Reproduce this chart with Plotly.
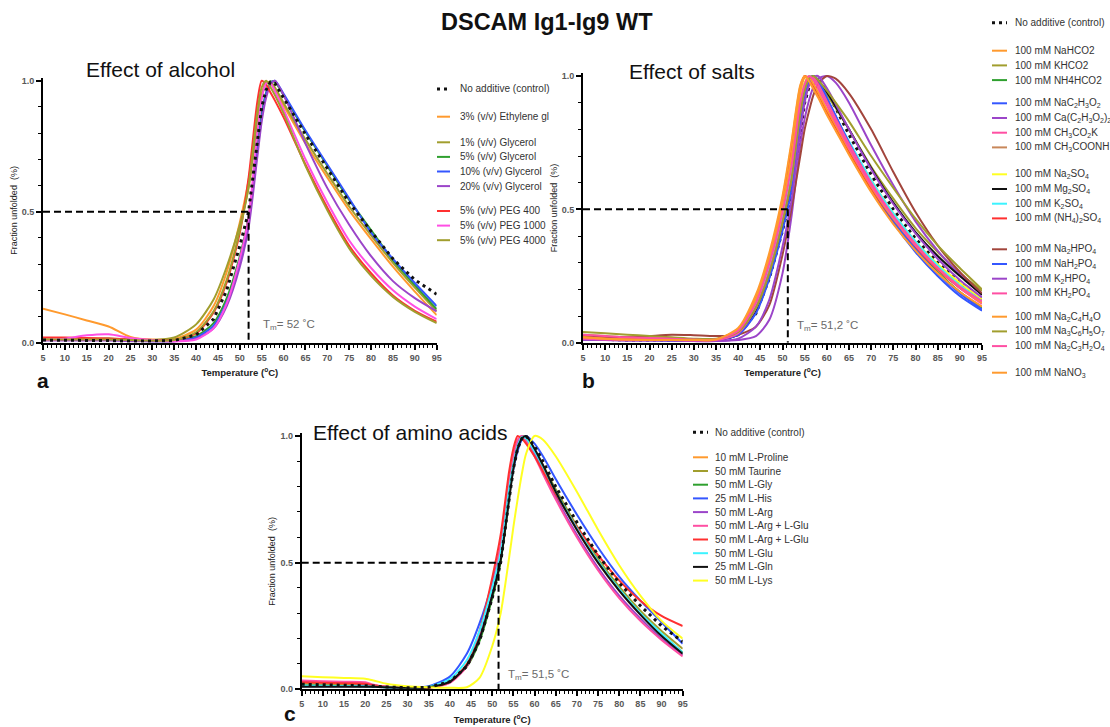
import plotly.graph_objects as go

W, H = 1110, 727
FONT = "Liberation Sans, Arial, Helvetica, sans-serif"

# ------------------------------------------------------------------ data
# Panel a : effect of alcohol
temp_a = [5, 10, 15, 20, 25, 30, 35, 40, 44, 47, 50, 52, 54, 55, 56, 57, 58, 60, 65, 70, 75, 80, 85, 90, 95]
a_control = [0.010, 0.010, 0.010, 0.008, 0.006, 0.006, 0.008, 0.030, 0.090, 0.200, 0.370, 0.500, 0.780, 0.900, 0.965, 0.995, 0.990, 0.935, 0.795, 0.665, 0.535, 0.425, 0.320, 0.240, 0.185]
a_ethylene = [0.130, 0.108, 0.085, 0.062, 0.022, 0.012, 0.015, 0.050, 0.140, 0.270, 0.460, 0.620, 0.860, 0.950, 0.995, 0.990, 0.965, 0.905, 0.760, 0.630, 0.505, 0.395, 0.290, 0.195, 0.105]
a_gly1 = [0.012, 0.012, 0.014, 0.016, 0.012, 0.010, 0.020, 0.070, 0.165, 0.290, 0.450, 0.590, 0.840, 0.940, 0.990, 0.995, 0.975, 0.915, 0.775, 0.645, 0.520, 0.410, 0.305, 0.210, 0.120]
a_gly5 = [0.010, 0.010, 0.012, 0.015, 0.012, 0.008, 0.008, 0.025, 0.075, 0.170, 0.330, 0.480, 0.750, 0.875, 0.955, 0.995, 0.995, 0.945, 0.805, 0.675, 0.545, 0.430, 0.315, 0.220, 0.128]
a_gly10 = [0.010, 0.010, 0.010, 0.010, 0.008, 0.006, 0.006, 0.020, 0.065, 0.155, 0.310, 0.460, 0.730, 0.860, 0.950, 0.990, 1.000, 0.950, 0.810, 0.680, 0.550, 0.420, 0.320, 0.228, 0.140]
a_gly20 = [0.008, 0.008, 0.008, 0.008, 0.006, 0.005, 0.005, 0.015, 0.055, 0.140, 0.290, 0.440, 0.710, 0.845, 0.935, 0.985, 1.000, 0.945, 0.760, 0.590, 0.450, 0.330, 0.235, 0.170, 0.120]
a_peg400 = [0.020, 0.020, 0.018, 0.016, 0.012, 0.010, 0.010, 0.035, 0.115, 0.230, 0.420, 0.630, 0.920, 1.000, 0.985, 0.955, 0.925, 0.860, 0.680, 0.515, 0.370, 0.265, 0.180, 0.122, 0.080]
a_peg1000 = [0.010, 0.015, 0.028, 0.032, 0.018, 0.010, 0.005, 0.012, 0.055, 0.150, 0.320, 0.480, 0.800, 0.930, 0.990, 0.990, 0.960, 0.890, 0.700, 0.535, 0.390, 0.285, 0.200, 0.138, 0.090]
a_peg4000 = [0.012, 0.012, 0.012, 0.012, 0.010, 0.008, 0.010, 0.040, 0.120, 0.240, 0.430, 0.600, 0.880, 0.975, 1.000, 0.975, 0.945, 0.875, 0.675, 0.505, 0.360, 0.255, 0.175, 0.118, 0.075]

# Panel b : effect of salts
temp_b = [5, 10, 15, 20, 25, 30, 35, 40, 44, 47, 50, 52, 54, 55, 56, 57, 58, 60, 62, 65, 70, 75, 80, 85, 90, 95]
b_control = [0.015, 0.012, 0.010, 0.010, 0.010, 0.008, 0.008, 0.030, 0.110, 0.240, 0.420, 0.560, 0.800, 0.900, 0.960, 0.995, 0.990, 0.940, 0.880, 0.780, 0.630, 0.500, 0.390, 0.300, 0.225, 0.165]
b_nahco2 = [0.020, 0.015, 0.012, 0.010, 0.010, 0.010, 0.012, 0.050, 0.170, 0.320, 0.540, 0.740, 0.960, 1.000, 0.985, 0.955, 0.925, 0.860, 0.800, 0.710, 0.570, 0.450, 0.350, 0.260, 0.190, 0.135]
b_khco2 = [0.030, 0.025, 0.020, 0.018, 0.015, 0.012, 0.012, 0.040, 0.140, 0.280, 0.470, 0.630, 0.870, 0.950, 0.995, 0.995, 0.975, 0.930, 0.880, 0.800, 0.660, 0.540, 0.430, 0.340, 0.260, 0.195]
b_nh4hco2 = [0.015, 0.012, 0.010, 0.010, 0.010, 0.008, 0.010, 0.035, 0.130, 0.260, 0.450, 0.600, 0.850, 0.940, 0.990, 0.995, 0.970, 0.905, 0.840, 0.740, 0.590, 0.460, 0.355, 0.265, 0.190, 0.130]
b_nac2h3o2 = [0.012, 0.010, 0.010, 0.010, 0.008, 0.008, 0.010, 0.030, 0.120, 0.250, 0.430, 0.580, 0.830, 0.930, 0.985, 1.000, 0.980, 0.915, 0.850, 0.745, 0.585, 0.450, 0.340, 0.250, 0.175, 0.120]
b_ca_acetate = [0.010, 0.010, 0.008, 0.008, 0.008, 0.006, 0.006, 0.010, 0.025, 0.085, 0.260, 0.470, 0.740, 0.840, 0.910, 0.960, 0.990, 1.000, 0.975, 0.900, 0.740, 0.590, 0.455, 0.345, 0.255, 0.180]
b_ch3co2k = [0.020, 0.018, 0.015, 0.012, 0.010, 0.010, 0.010, 0.040, 0.150, 0.290, 0.480, 0.650, 0.900, 0.970, 1.000, 0.990, 0.960, 0.895, 0.830, 0.735, 0.590, 0.465, 0.360, 0.275, 0.205, 0.150]
b_ch3coonh4 = [0.015, 0.012, 0.010, 0.010, 0.010, 0.010, 0.012, 0.045, 0.160, 0.300, 0.490, 0.660, 0.900, 0.970, 1.000, 0.985, 0.960, 0.895, 0.830, 0.740, 0.600, 0.475, 0.370, 0.285, 0.215, 0.160]
b_na2so4 = [0.015, 0.012, 0.010, 0.010, 0.010, 0.010, 0.012, 0.045, 0.160, 0.310, 0.500, 0.670, 0.910, 0.975, 1.000, 0.985, 0.960, 0.900, 0.840, 0.750, 0.610, 0.485, 0.380, 0.295, 0.225, 0.165]
b_mg2so4 = [0.012, 0.010, 0.010, 0.010, 0.010, 0.008, 0.010, 0.030, 0.115, 0.245, 0.430, 0.580, 0.830, 0.930, 0.985, 1.000, 0.985, 0.940, 0.885, 0.800, 0.655, 0.525, 0.415, 0.325, 0.250, 0.180]
b_k2so4 = [0.015, 0.012, 0.010, 0.010, 0.010, 0.008, 0.010, 0.040, 0.150, 0.290, 0.480, 0.640, 0.890, 0.965, 1.000, 0.990, 0.965, 0.905, 0.845, 0.755, 0.610, 0.485, 0.380, 0.290, 0.215, 0.155]
b_nh4_2so4 = [0.020, 0.015, 0.012, 0.010, 0.010, 0.010, 0.012, 0.050, 0.170, 0.320, 0.530, 0.720, 0.950, 1.000, 0.990, 0.965, 0.935, 0.870, 0.810, 0.720, 0.580, 0.460, 0.360, 0.275, 0.205, 0.150]
b_na2hpo4 = [0.025, 0.022, 0.020, 0.025, 0.030, 0.028, 0.025, 0.030, 0.060, 0.140, 0.330, 0.500, 0.700, 0.800, 0.870, 0.930, 0.970, 1.000, 0.990, 0.935, 0.800, 0.640, 0.490, 0.365, 0.265, 0.185]
b_nah2po4 = [0.012, 0.010, 0.010, 0.010, 0.008, 0.008, 0.010, 0.030, 0.110, 0.240, 0.420, 0.570, 0.820, 0.920, 0.980, 1.000, 0.985, 0.920, 0.850, 0.750, 0.595, 0.460, 0.350, 0.260, 0.185, 0.125]
b_k2hpo4 = [0.010, 0.010, 0.008, 0.008, 0.008, 0.006, 0.006, 0.015, 0.060, 0.160, 0.360, 0.530, 0.790, 0.900, 0.965, 0.995, 1.000, 0.955, 0.895, 0.800, 0.650, 0.520, 0.410, 0.315, 0.235, 0.170]
b_kh2po4 = [0.015, 0.012, 0.010, 0.010, 0.010, 0.008, 0.010, 0.035, 0.130, 0.265, 0.455, 0.610, 0.860, 0.950, 0.995, 0.995, 0.970, 0.905, 0.840, 0.745, 0.600, 0.475, 0.370, 0.280, 0.205, 0.145]
b_na2c4h4o = [0.020, 0.015, 0.012, 0.010, 0.010, 0.010, 0.012, 0.050, 0.165, 0.315, 0.520, 0.700, 0.940, 0.995, 0.995, 0.970, 0.940, 0.875, 0.815, 0.725, 0.585, 0.465, 0.365, 0.280, 0.210, 0.150]
b_na3c6h5o7 = [0.040, 0.035, 0.030, 0.025, 0.020, 0.015, 0.015, 0.040, 0.130, 0.260, 0.450, 0.610, 0.860, 0.945, 0.990, 1.000, 0.985, 0.945, 0.900, 0.830, 0.700, 0.580, 0.465, 0.365, 0.280, 0.200]
b_na2c3h2o4 = [0.030, 0.025, 0.020, 0.018, 0.015, 0.012, 0.012, 0.045, 0.150, 0.295, 0.490, 0.660, 0.900, 0.970, 1.000, 0.985, 0.955, 0.890, 0.825, 0.730, 0.590, 0.470, 0.365, 0.280, 0.210, 0.155]
b_nano3 = [0.020, 0.015, 0.012, 0.010, 0.010, 0.010, 0.012, 0.055, 0.180, 0.335, 0.550, 0.750, 0.965, 1.000, 0.980, 0.950, 0.920, 0.855, 0.795, 0.705, 0.565, 0.445, 0.345, 0.260, 0.190, 0.135]

# Panel c : effect of amino acids
temp_c = [5, 10, 15, 20, 22, 25, 30, 35, 40, 44, 47, 50, 52, 54, 55, 56, 57, 58, 60, 62, 65, 70, 75, 80, 85, 90, 95]
c_control = [0.020, 0.018, 0.016, 0.015, 0.013, 0.009, 0.006, 0.008, 0.030, 0.090, 0.190, 0.360, 0.500, 0.750, 0.870, 0.950, 0.990, 1.000, 0.960, 0.900, 0.800, 0.660, 0.530, 0.420, 0.330, 0.250, 0.188]
c_proline = [0.025, 0.022, 0.020, 0.018, 0.015, 0.010, 0.006, 0.008, 0.030, 0.095, 0.200, 0.370, 0.520, 0.770, 0.880, 0.960, 1.000, 0.990, 0.940, 0.880, 0.780, 0.630, 0.500, 0.390, 0.295, 0.215, 0.145]
c_taurine = [0.020, 0.018, 0.016, 0.015, 0.013, 0.009, 0.006, 0.008, 0.030, 0.090, 0.195, 0.365, 0.510, 0.765, 0.880, 0.960, 0.995, 0.995, 0.945, 0.885, 0.790, 0.645, 0.515, 0.405, 0.310, 0.230, 0.160]
c_gly = [0.015, 0.014, 0.013, 0.012, 0.010, 0.008, 0.006, 0.008, 0.030, 0.090, 0.190, 0.360, 0.505, 0.760, 0.875, 0.955, 0.995, 0.995, 0.940, 0.880, 0.780, 0.635, 0.505, 0.395, 0.300, 0.215, 0.145]
c_his = [0.012, 0.012, 0.012, 0.012, 0.010, 0.008, 0.006, 0.012, 0.050, 0.140, 0.260, 0.420, 0.560, 0.770, 0.870, 0.940, 0.985, 1.000, 0.970, 0.920, 0.830, 0.690, 0.560, 0.445, 0.350, 0.265, 0.180]
c_arg = [0.030, 0.028, 0.025, 0.022, 0.015, 0.010, 0.006, 0.008, 0.030, 0.095, 0.205, 0.380, 0.530, 0.790, 0.900, 0.975, 1.000, 0.985, 0.930, 0.860, 0.760, 0.610, 0.480, 0.370, 0.280, 0.200, 0.135]
c_argglu_1 = [0.035, 0.032, 0.030, 0.028, 0.018, 0.010, 0.006, 0.006, 0.025, 0.090, 0.210, 0.400, 0.570, 0.820, 0.920, 0.985, 1.000, 0.980, 0.920, 0.850, 0.750, 0.600, 0.470, 0.360, 0.270, 0.195, 0.130]
c_argglu_2 = [0.028, 0.026, 0.024, 0.022, 0.015, 0.010, 0.006, 0.006, 0.030, 0.100, 0.230, 0.440, 0.610, 0.860, 0.950, 1.000, 0.990, 0.970, 0.920, 0.860, 0.770, 0.640, 0.530, 0.430, 0.350, 0.290, 0.250]
c_glu = [0.015, 0.014, 0.013, 0.012, 0.010, 0.008, 0.006, 0.010, 0.040, 0.115, 0.230, 0.400, 0.540, 0.790, 0.890, 0.960, 0.995, 0.990, 0.940, 0.880, 0.780, 0.635, 0.505, 0.395, 0.300, 0.220, 0.145]
c_gln = [0.010, 0.010, 0.010, 0.010, 0.010, 0.008, 0.006, 0.008, 0.030, 0.095, 0.200, 0.370, 0.510, 0.750, 0.870, 0.950, 0.990, 1.000, 0.950, 0.885, 0.780, 0.630, 0.500, 0.390, 0.295, 0.210, 0.140]
c_lys = [0.052, 0.048, 0.045, 0.042, 0.035, 0.022, 0.012, 0.008, 0.006, 0.008, 0.045, 0.170, 0.300, 0.520, 0.640, 0.750, 0.850, 0.930, 1.000, 0.985, 0.920, 0.780, 0.630, 0.490, 0.370, 0.270, 0.200]

tm_values = [52, 51.2, 51.5]
tm_labels = ["52", "51,2", "51,5"]

# ------------------------------------------------------------------ styles
ORANGE = "#FF9A2E"
OLIVE = "#A19E2E"
GREEN = "#2FA02F"
BLUE = "#3456FF"
PURPLE = "#9B45C9"
RED = "#FF3030"
MAGENTA = "#FF4FE4"
PINK = "#FF4FA3"
TAN = "#C8875A"
YELLOW = "#FFFF22"
CYAN = "#3CF3FF"
BROWN = "#A2453C"
BLACK = "#111111"
DOT = "dotted"

groups_a = [
    [("No additive (control)", BLACK, a_control, DOT)],
    [("3% (v/v) Ethylene gl", ORANGE, a_ethylene, None)],
    [("1% (v/v) Glycerol", OLIVE, a_gly1, None),
     ("5% (v/v) Glycerol", GREEN, a_gly5, None),
     ("10% (v/v) Glycerol", BLUE, a_gly10, None),
     ("20% (v/v) Glycerol", PURPLE, a_gly20, None)],
    [("5% (v/v) PEG 400", RED, a_peg400, None),
     ("5% (v/v) PEG 1000", MAGENTA, a_peg1000, None),
     ("5% (v/v) PEG 4000", OLIVE, a_peg4000, None)],
]
groups_b = [
    [("No additive (control)", BLACK, b_control, DOT)],
    [("100 mM NaHCO2", ORANGE, b_nahco2, None),
     ("100 mM KHCO2", OLIVE, b_khco2, None),
     ("100 mM NH4HCO2", GREEN, b_nh4hco2, None)],
    [("100 mM NaC<sub>2</sub>H<sub>3</sub>O<sub>2</sub>", BLUE, b_nac2h3o2, None),
     ("100 mM Ca(C<sub>2</sub>H<sub>3</sub>O<sub>2</sub>)<sub>2</sub>", PURPLE, b_ca_acetate, None),
     ("100 mM CH<sub>3</sub>CO<sub>2</sub>K", PINK, b_ch3co2k, None),
     ("100 mM CH<sub>3</sub>COONH", TAN, b_ch3coonh4, None)],
    [("100 mM Na<sub>2</sub>SO<sub>4</sub>", YELLOW, b_na2so4, None),
     ("100 mM Mg<sub>2</sub>SO<sub>4</sub>", BLACK, b_mg2so4, None),
     ("100 mM K<sub>2</sub>SO<sub>4</sub>", CYAN, b_k2so4, None),
     ("100 mM (NH<sub>4</sub>)<sub>2</sub>SO<sub>4</sub>", RED, b_nh4_2so4, None)],
    [("100 mM Na<sub>2</sub>HPO<sub>4</sub>", BROWN, b_na2hpo4, None),
     ("100 mM NaH<sub>2</sub>PO<sub>4</sub>", BLUE, b_nah2po4, None),
     ("100 mM K<sub>2</sub>HPO<sub>4</sub>", PURPLE, b_k2hpo4, None),
     ("100 mM KH<sub>2</sub>PO<sub>4</sub>", PINK, b_kh2po4, None)],
    [("100 mM Na<sub>2</sub>C<sub>4</sub>H<sub>4</sub>O", ORANGE, b_na2c4h4o, None),
     ("100 mM Na<sub>3</sub>C<sub>6</sub>H<sub>5</sub>O<sub>7</sub>", OLIVE, b_na3c6h5o7, None),
     ("100 mM Na<sub>2</sub>C<sub>3</sub>H<sub>2</sub>O<sub>4</sub>", PINK, b_na2c3h2o4, None)],
    [("100 mM NaNO<sub>3</sub>", ORANGE, b_nano3, None)],
]
groups_c = [
    [("No additive (control)", BLACK, c_control, DOT)],
    [("10 mM L-Proline", ORANGE, c_proline, None),
     ("50 mM Taurine", OLIVE, c_taurine, None),
     ("50 mM L-Gly", GREEN, c_gly, None),
     ("25 mM L-His", BLUE, c_his, None),
     ("50 mM L-Arg", PURPLE, c_arg, None),
     ("50 mM L-Arg + L-Glu", PINK, c_argglu_1, None),
     ("50 mM L-Arg + L-Glu", RED, c_argglu_2, None),
     ("50 mM L-Glu", CYAN, c_glu, None),
     ("25 mM L-Gln", BLACK, c_gln, None),
     ("50 mM L-Lys", YELLOW, c_lys, None)],
]

YMAX = 1.01

panels = [
    dict(ax="", temp=temp_a, groups=groups_a, px=(43, 436.7), py=(342.7, 80.7),
         title="Effect of alcohol", title_xy=(160, 70), letter="a", letter_xy=(43, 381),
         leg=dict(sw=(437, 450), tx=458, starts=[89, 116.7, 142.3, 211], row=14.6),
         tm_dx=2.8, tm_y=0.066, control_on_top=True),
    dict(ax="2", temp=temp_b, groups=groups_b, px=(583, 982), py=(342.7, 76),
         title="Effect of salts", title_xy=(692, 71), letter="b", letter_xy=(588, 380),
         leg=dict(sw=(992, 1007), tx=1013, starts=[22.7, 50.7, 103.3, 174.3, 249.3, 316.7, 372.7], row=14.7),
         tm_dx=1.6, tm_y=0.063, control_on_top=False),
    dict(ax="3", temp=temp_c, groups=groups_c, px=(301.7, 682.7), py=(689.3, 436),
         title="Effect of amino acids", title_xy=(410, 432), letter="c", letter_xy=(290, 713),
         leg=dict(sw=(693, 708), tx=713, starts=[432.3, 457.3], row=13.7),
         tm_dx=1.8, tm_y=0.056, control_on_top=True),
]


def fx(p):
    return p / W


def fy(p):
    return 1 - p / H


fig = go.Figure()
shapes = []
annotations = []
layout_axes = {}

tick_font = dict(family=FONT, size=9, color="#585858", weight="bold")

for i, p in enumerate(panels):
    xa = "x" + p["ax"]
    ya = "y" + p["ax"]
    temp = p["temp"]
    series = [s for g in p["groups"] for s in g]
    ordered = series[1:] + series[:1] if p["control_on_top"] else series
    for name, color, vals, style in ordered:
        assert len(vals) == len(temp), name
        if style == DOT:
            line = dict(color=color, width=3, dash="3px,4px")
        else:
            line = dict(color=color, width=2, shape="spline", smoothing=0.7)
        fig.add_trace(go.Scatter(x=temp, y=vals, mode="lines", line=line, name=name,
                                 xaxis=xa, yaxis=ya, showlegend=False, hoverinfo="skip"))

    y0p, y1p = p["py"]
    top_p = y1p - (YMAX - 1) * (y0p - y1p)
    layout_axes["xaxis" + p["ax"]] = dict(
        domain=[fx(p["px"][0]), fx(p["px"][1])], anchor=ya, range=[5, 95], automargin=False,
        tick0=5, dtick=5, ticks="outside", ticklen=5, tickwidth=1.5, tickcolor="black",
        showline=True, linecolor="black", linewidth=2, showgrid=False, zeroline=False,
        tickfont=tick_font,
        minor=dict(dtick=1, tick0=5, ticks="outside", ticklen=3, tickwidth=1, tickcolor="black"),
        title=dict(text="Temperature (<sup>o</sup>C)", standoff=8,
                   font=dict(family=FONT, size=9.5, color="#222", weight="bold")),
    )
    layout_axes["yaxis" + p["ax"]] = dict(
        domain=[fy(y0p), fy(top_p)], anchor=xa, range=[0, YMAX], automargin=False,
        tickvals=[0, 0.5, 1.0], ticktext=["0.0", "0.5", "1.0"],
        ticks="outside", ticklen=5, tickwidth=1.5, tickcolor="black",
        showline=True, linecolor="black", linewidth=2, showgrid=False, zeroline=False,
        tickfont=tick_font,
        minor=dict(dtick=0.1, tick0=0, ticks="outside", ticklen=3, tickwidth=1, tickcolor="black"),
        title=dict(text="Fraction unfolded  (%)", standoff=3,
                   font=dict(family=FONT, size=9, color="#222")),
    )

    # Tm guide lines
    tm = tm_values[i]
    dash_line = dict(color="black", width=2, dash="7px,4px")
    shapes.append(dict(type="line", xref=xa, yref=ya, x0=5, x1=tm, y0=0.5, y1=0.5, line=dash_line))
    shapes.append(dict(type="line", xref=xa, yref=ya, x0=tm, x1=tm, y0=0.5, y1=0, line=dash_line))
    annotations.append(dict(xref=xa, yref=ya, x=tm + p["tm_dx"], y=p["tm_y"], xanchor="left",
                            yanchor="middle", showarrow=False,
                            text="T<sub>m</sub>= %s ˚C" % tm_labels[i],
                            font=dict(family=FONT, size=11.5, color="#6a6a6a")))

    # panel title and letter
    annotations.append(dict(xref="paper", yref="paper", x=fx(p["title_xy"][0]), y=fy(p["title_xy"][1]),
                            xanchor="center", yanchor="middle", showarrow=False, text=p["title"],
                            font=dict(family=FONT, size=21, color="#111")))
    annotations.append(dict(xref="paper", yref="paper", x=fx(p["letter_xy"][0]), y=fy(p["letter_xy"][1]),
                            xanchor="center", yanchor="middle", showarrow=False, text=p["letter"],
                            font=dict(family=FONT, size=21, color="#111", weight="bold")))

    # manual legend
    lg = p["leg"]
    for gi, g in enumerate(p["groups"]):
        ypix = lg["starts"][gi]
        for name, color, vals, style in g:
            if style == DOT:
                sline = dict(color=color, width=3, dash="3px,4px")
            else:
                sline = dict(color=color, width=2)
            shapes.append(dict(type="line", xref="paper", yref="paper",
                               x0=fx(lg["sw"][0]), x1=fx(lg["sw"][1]), y0=fy(ypix), y1=fy(ypix),
                               line=sline))
            annotations.append(dict(xref="paper", yref="paper", x=fx(lg["tx"]), y=fy(ypix),
                                    xanchor="left", yanchor="middle", showarrow=False, text=name,
                                    font=dict(family=FONT, size=10, color="#333")))
            ypix += lg["row"]

annotations.append(dict(xref="paper", yref="paper", x=fx(547), y=fy(22), xanchor="center",
                        yanchor="middle", showarrow=False, text="<b>DSCAM Ig1-Ig9 WT</b>",
                        font=dict(family=FONT, size=23.5, color="#111")))

fig.update_layout(
    template="none",
    width=W, height=H, margin=dict(l=0, r=0, t=0, b=0, pad=0),
    paper_bgcolor="white", plot_bgcolor="white",
    font=dict(family=FONT), showlegend=False,
    shapes=shapes, annotations=annotations, **layout_axes,
)

# the page body gets no default margin, so figure pixels match window pixels
fig.write_html("out.html", config={"displayModeBar": False},
               post_script="document.body.style.margin='0';document.body.style.overflow='hidden';")
